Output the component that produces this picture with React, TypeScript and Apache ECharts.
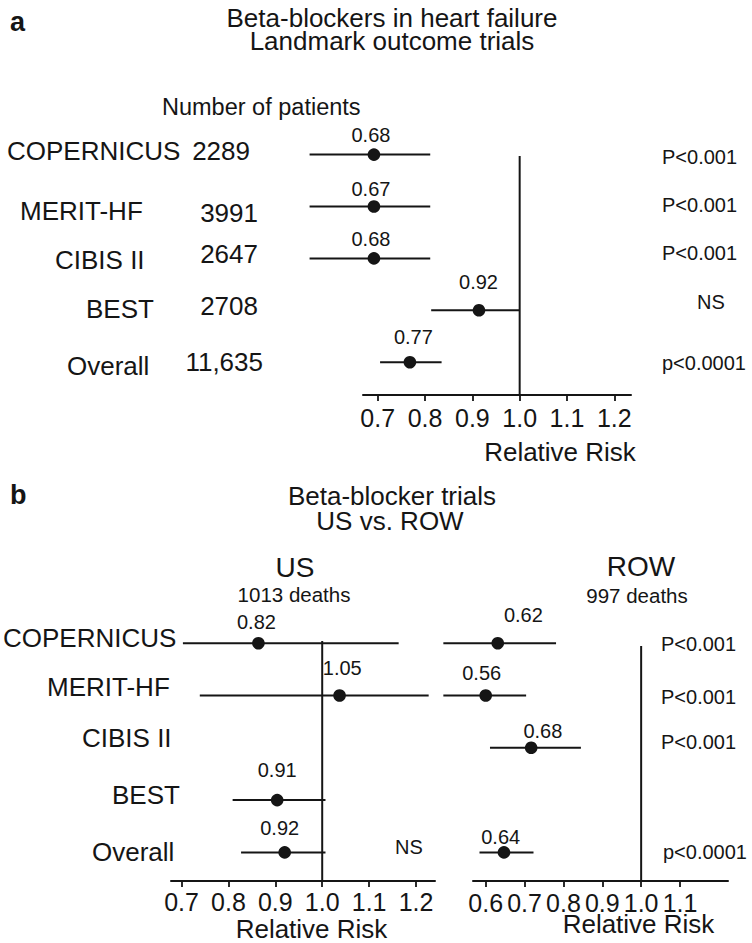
import React, { useEffect, useRef } from "react";
import * as echarts from "echarts";

// ---------- data ----------
const TRIALS = ["COPERNICUS", "MERIT-HF", "CIBIS II", "BEST", "Overall"];
const PATIENTS = ["2289", "3991", "2647", "2708", "11,635"];

// Panel a: landmark outcome trials
const TOP_EST = [0.692, 0.692, 0.692, 0.914, 0.768];
const TOP_LO = [0.556, 0.556, 0.556, 0.813, 0.705];
const TOP_HI = [0.811, 0.811, 0.811, 1.0, 0.835];
const TOP_LABELS = ["0.68", "0.67", "0.68", "0.92", "0.77"];
const TOP_P = ["P<0.001", "P<0.001", "P<0.001", "NS", "p<0.0001"];

// Panel b: US
const US_EST = [0.864, 1.037, null, 0.904, 0.92];
const US_LO = [0.703, 0.739, null, 0.809, 0.827];
const US_HI = [1.163, 1.227, null, 1.007, 1.007];
const US_LABELS = ["0.82", "1.05", null, "0.91", "0.92"];

// Panel b: ROW
const ROW_EST = [0.631, 0.6, 0.717, null, 0.647];
const ROW_LO = [0.491, 0.491, 0.611, null, 0.584];
const ROW_HI = [0.781, 0.704, 0.845, null, 0.723];
const ROW_LABELS = ["0.62", "0.56", "0.68", null, "0.64"];
const ROW_P = ["P<0.001", "P<0.001", "P<0.001", null, "p<0.0001"];

const TICKS_A = [0.7, 0.8, 0.9, 1.0, 1.1, 1.2];
const TICKS_US = [0.7, 0.8, 0.9, 1.0, 1.1, 1.2];
const TICKS_ROW = [0.6, 0.7, 0.8, 0.9, 1.0, 1.1];

// ---------- layout (label nudges in px relative to point) ----------
const TOP_NUDGE = [[-3, -20], [-3, -17], [-3, -19], [-0.5, -28], [3.5, -25]];
const US_NUDGE = [[-2, -21.5], [2.7, -27.5], [0, 0], [0, -30], [-5, -24.4]];
const ROW_NUDGE = [[25.6, -28.2], [-4, -22.2], [11.7, -16.8], [0, 0], [-3.3, -15.7]];

const FONT = "'Liberation Sans', Arial, Helvetica, sans-serif";
const INK = "#151515";
const TICK_FONT = 25;

function buildData(est: (number | null)[], lo: (number | null)[], hi: (number | null)[]) {
  const out: any[] = [];
  est.forEach((e, i) => {
    if (e == null) return;
    out.push({ value: [e, lo[i], hi[i], i] });
  });
  return out;
}

function forestSeries(gridIdx: number, est: any[], lo: any[], hi: any[], labels: any[], nudge: number[][]) {
  const data = buildData(est, lo, hi);
  return {
    type: "custom",
    xAxisIndex: gridIdx,
    yAxisIndex: gridIdx,
    clip: false,
    silent: true,
    data,
    renderItem: (params: any, api: any) => {
      const e = api.value(0);
      const l = api.value(1);
      const h = api.value(2);
      const r = api.value(3);
      const p = api.coord([e, r]);
      const a = api.coord([l, r]);
      const b = api.coord([h, r]);
      const nd = nudge[r] || [0, -20];
      return {
        type: "group",
        children: [
          {
            type: "line",
            shape: { x1: a[0], y1: a[1], x2: b[0], y2: b[1] },
            style: { stroke: INK, lineWidth: 2 },
          },
          {
            type: "circle",
            shape: { cx: p[0], cy: p[1], r: 6.3 },
            style: { fill: INK },
          },
          {
            type: "text",
            x: p[0] + nd[0],
            y: p[1] + nd[1],
            style: {
              text: labels[r],
              fill: INK,
              fontSize: 20,
              fontFamily: FONT,
              align: "center",
              verticalAlign: "middle",
              textAlign: "center",
              textVerticalAlign: "middle",
            },
          },
        ],
      };
    },
  };
}

function refLine(gridIdx: number, yMin: number, yMax: number) {
  return {
    type: "line",
    xAxisIndex: gridIdx,
    yAxisIndex: gridIdx,
    data: [
      [1.0, yMin],
      [1.0, yMax],
    ],
    symbol: "none",
    silent: true,
    lineStyle: { color: INK, width: 2 },
  };
}

function xAxisCfg(gridIdx: number, min: number, max: number, ticks: number[], margin: number) {
  return {
    type: "value",
    gridIndex: gridIdx,
    min,
    max,
    axisLine: { show: true, onZero: false, lineStyle: { color: INK, width: 2 } },
    axisTick: { show: true, length: 6, customValues: ticks, lineStyle: { color: INK, width: 1.8 } },
    axisLabel: {
      customValues: ticks,
      formatter: (v: number) => v.toFixed(1),
      fontSize: TICK_FONT,
      fontFamily: FONT,
      color: INK,
      margin,
    },
    splitLine: { show: false },
  };
}

function yAxisCfg(gridIdx: number, min: number, max: number) {
  return { type: "value", gridIndex: gridIdx, inverse: true, min, max, show: false };
}

function txt(text: string, x: number, y: number, size: number, align = "left", bold = false) {
  return {
    type: "text",
    x,
    y,
    silent: true,
    style: {
      text,
      fill: INK,
      fontSize: size,
      fontFamily: FONT,
      fontWeight: bold ? "bold" : "normal",
      align,
      verticalAlign: "middle",
      textAlign: align,
      textVerticalAlign: "middle",
    },
  };
}

export default function App() {
  const ref = useRef<HTMLDivElement>(null);
  useEffect(() => {
    if (!ref.current) return;
    const chart = echarts.init(ref.current, null, { renderer: "svg" });

    const Y_A = [0.027, 4.632];
    const Y_US = [-0.042, 4.547];
    const Y_ROW = [0.0535, 4.547];

    const graphics: any[] = [];
    // Panel a headings
    graphics.push(txt("a", 10, 22, 27, "left", true));
    graphics.push(txt("Beta-blockers in heart failure", 392, 17.5, 26, "center"));
    graphics.push(txt("Landmark outcome trials", 392, 41, 26, "center"));
    graphics.push(txt("Number of patients", 162, 106.5, 23.5, "left"));
    // Panel a row texts
    const aNameX = [7, 20, 55, 86, 67];
    const aNameY = [151, 211, 260, 309, 366];
    const aNumRight = [250, 258, 258, 258, 263];
    const aNumY = [151, 212.5, 254, 306, 362];
    TRIALS.forEach((t, i) => {
      graphics.push(txt(t, aNameX[i], aNameY[i], 26, "left"));
      graphics.push(txt(PATIENTS[i], aNumRight[i], aNumY[i], 26, "right"));
    });
    const aPY = [157, 205, 253, 302, 363];
    TOP_P.forEach((p, i) => {
      if (p === "NS") graphics.push(txt(p, 711, aPY[i], 20, "center"));
      else graphics.push(txt(p, 662, aPY[i], 20, "left"));
    });
    graphics.push(txt("Relative Risk", 560, 452, 26, "center"));

    // Panel b headings
    graphics.push(txt("b", 10, 495, 27, "left", true));
    graphics.push(txt("Beta-blocker trials", 392, 496, 26, "center"));
    graphics.push(txt("US vs. ROW", 390, 521, 26, "center"));
    graphics.push(txt("US", 295, 567, 28, "center"));
    graphics.push(txt("1013 deaths", 294, 594.5, 20.5, "center"));
    graphics.push(txt("ROW", 641, 566, 28, "center"));
    graphics.push(txt("997 deaths", 637, 595.5, 20.5, "center"));
    const bNameX = [3, 47, 82, 112, 92];
    const bNameY = [638, 687, 738, 795, 852];
    TRIALS.forEach((t, i) => graphics.push(txt(t, bNameX[i], bNameY[i], 26, "left")));
    graphics.push(txt("NS", 409, 847, 20, "center"));
    const bPX = [661, 661, 661, 0, 663];
    const bPY = [644.3, 696.7, 741.7, 0, 851.7];
    ROW_P.forEach((p, i) => {
      if (p) graphics.push(txt(p, bPX[i], bPY[i], 20, "left"));
    });
    graphics.push(txt("Relative Risk", 311.5, 929, 26, "center"));
    graphics.push(txt("Relative Risk", 638.5, 924, 26, "center"));

    chart.setOption({
      animation: false,
      backgroundColor: "#ffffff",
      grid: [
        { left: 363, top: 156, width: 268, height: 239 },
        { left: 171, top: 641, width: 264, height: 240 },
        { left: 473, top: 646, width: 255, height: 235 },
      ],
      xAxis: [
        xAxisCfg(0, 0.6689, 1.2353, TICKS_A, 10),
        xAxisCfg(1, 0.6776, 1.2405, TICKS_US, 8),
        xAxisCfg(2, 0.5673, 1.2235, TICKS_ROW, 9),
      ],
      yAxis: [yAxisCfg(0, Y_A[0], Y_A[1]), yAxisCfg(1, Y_US[0], Y_US[1]), yAxisCfg(2, Y_ROW[0], Y_ROW[1])],
      series: [
        refLine(0, Y_A[0], Y_A[1]),
        refLine(1, Y_US[0], Y_US[1]),
        refLine(2, Y_ROW[0], Y_ROW[1]),
        forestSeries(0, TOP_EST, TOP_LO, TOP_HI, TOP_LABELS, TOP_NUDGE),
        forestSeries(1, US_EST, US_LO, US_HI, US_LABELS, US_NUDGE),
        forestSeries(2, ROW_EST, ROW_LO, ROW_HI, ROW_LABELS, ROW_NUDGE),
      ],
      graphic: graphics,
    });
    return () => chart.dispose();
  }, []);
  return (
    <div
      ref={ref}
      style={{ position: "absolute", left: 0, top: 0, width: 752, height: 943, background: "#fff" }}
    />
  );
}
